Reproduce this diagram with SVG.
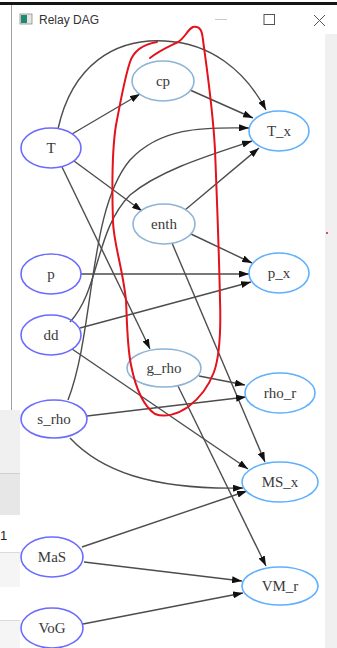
<svg xmlns="http://www.w3.org/2000/svg" width="337" height="648" viewBox="0 0 337 648">
<style>
.src{fill:none;stroke:#6b6bff;stroke-width:1.6}
.mid{fill:none;stroke:#8db3d6;stroke-width:1.6}
.out{fill:none;stroke:#5fb0ff;stroke-width:1.6}
.lbl{font-family:"Liberation Serif","Times New Roman",serif;font-size:15px;fill:#3a3a3a;text-anchor:middle;dominant-baseline:central}
.e{fill:none;stroke:#4d4d4d;stroke-width:1.4;marker-end:url(#ah)}
.red{fill:none;stroke:#e3121b;stroke-width:2;stroke-linecap:round;stroke-linejoin:round}
</style>
<defs>
<marker id="ah" viewBox="0 0 10 7" refX="10" refY="3.5" markerWidth="10" markerHeight="7" markerUnits="userSpaceOnUse" orient="auto">
<path d="M0,0 L10,3.5 L0,7 z" fill="#111"/>
</marker>
</defs>
<rect width="337" height="648" fill="#fff"/>
<!-- window chrome -->
<g id="chrome">
<rect x="0" y="2" width="337" height="3" fill="#151515"/>
<line x1="11.5" y1="5" x2="11.5" y2="410" stroke="#a0a0a0" stroke-width="1"/>
<rect x="325" y="34" width="12" height="614" fill="#f0f0f0"/>
<rect x="20" y="14" width="12" height="10" fill="#e6e6e6" stroke="#8a8a8a" stroke-width="0.8"/>
<rect x="21" y="15" width="6" height="8" fill="#1f8a6e"/>
<text x="39" y="24" font-family="Liberation Sans, Arial, sans-serif" font-size="12" fill="#333">Relay DAG</text>
<line x1="215" y1="19.5" x2="227" y2="19.5" stroke="#c8c8c8" stroke-width="1"/>
<rect x="264" y="14.5" width="10.5" height="10" fill="none" stroke="#555" stroke-width="1"/>
<path d="M314,15 L325,26 M325,15 L314,26" stroke="#555" stroke-width="1" fill="none"/>
</g>
<!-- background window fragment -->
<g id="bgwin">
<rect x="0" y="410" width="20" height="63" fill="#f0f0f0"/>
<line x1="0" y1="473.5" x2="20" y2="473.5" stroke="#cfcfcf"/>
<rect x="0" y="474" width="20" height="41" fill="#e7e7e7"/>
<text x="0" y="540" font-family="Liberation Sans, Arial, sans-serif" font-size="13" fill="#222">1</text>
<line x1="0" y1="552.5" x2="20" y2="552.5" stroke="#dadada"/>
<rect x="0" y="553" width="20" height="34" fill="#f5f5f5"/>
<line x1="0" y1="620.5" x2="20" y2="620.5" stroke="#dadada"/>
<rect x="0" y="621" width="20" height="27" fill="#f5f5f5"/>
</g>
<!-- connectors -->
<g id="edges">
<path class="e" d="M58,129 C72,65 115,38 165,41 C210,43 245,70 266,110"/>
<path class="e" d="M72,134 L140,94"/>
<path class="e" d="M190,90 L253,118"/>
<path class="e" d="M74,161 L142,211"/>
<path class="e" d="M62,167 L150,349"/>
<path class="e" d="M185,210 L259,148"/>
<path class="e" d="M191,234 L252,263"/>
<path class="e" d="M172,243 L265,462"/>
<path class="e" d="M81,274 L249,274"/>
<path class="e" d="M80,328 L251,282"/>
<path class="e" d="M70,322 C100,290 95,230 130,195 C160,170 210,155 252,141"/>
<path class="e" d="M72,349 L248,469"/>
<path class="e" d="M199,376 L245,385"/>
<path class="e" d="M178,386 L266,566"/>
<path class="e" d="M87,416 L246,397"/>
<path class="e" d="M68,400 C95,330 88,210 130,160 C160,128 200,127 249,128"/>
<path class="e" d="M70,438 C100,470 150,490 243,488"/>
<path class="e" d="M82,547 L247,491"/>
<path class="e" d="M84,562 L242,581"/>
<path class="e" d="M83,624 L243,593"/>
</g>
<!-- nodes -->
<g id="node-T"><ellipse class="src" cx="51" cy="148" rx="30" ry="20"/><text class="lbl" x="51" y="148">T</text></g>
<g id="node-cp"><ellipse class="mid" cx="163" cy="81" rx="31" ry="20"/><text class="lbl" x="163" y="81">cp</text></g>
<g id="node-T_x"><ellipse class="out" cx="279" cy="131" rx="30" ry="20"/><text class="lbl" x="279" y="131">T_x</text></g>
<g id="node-enth"><ellipse class="mid" cx="164" cy="224" rx="31" ry="20"/><text class="lbl" x="164" y="224">enth</text></g>
<g id="node-p"><ellipse class="src" cx="51" cy="274" rx="30" ry="20"/><text class="lbl" x="51" y="274">p</text></g>
<g id="node-p_x"><ellipse class="out" cx="279" cy="273" rx="30" ry="20"/><text class="lbl" x="279" y="273">p_x</text></g>
<g id="node-dd"><ellipse class="src" cx="51" cy="335" rx="30" ry="20"/><text class="lbl" x="51" y="335">dd</text></g>
<g id="node-g_rho"><ellipse class="mid" cx="164" cy="368" rx="37" ry="19"/><text class="lbl" x="164" y="368">g_rho</text></g>
<g id="node-rho_r"><ellipse class="out" cx="280" cy="393" rx="35" ry="20"/><text class="lbl" x="280" y="393">rho_r</text></g>
<g id="node-s_rho"><ellipse class="src" cx="54" cy="419" rx="33" ry="19"/><text class="lbl" x="54" y="419">s_rho</text></g>
<g id="node-MS_x"><ellipse class="out" cx="280" cy="482" rx="38" ry="20"/><text class="lbl" x="280" y="482">MS_x</text></g>
<g id="node-MaS"><ellipse class="src" cx="52" cy="557" rx="31" ry="20"/><text class="lbl" x="52" y="557">MaS</text></g>
<g id="node-VM_r"><ellipse class="out" cx="280" cy="586" rx="38" ry="19"/><text class="lbl" x="280" y="586">VM_r</text></g>
<g id="node-VoG"><ellipse class="src" cx="52" cy="628" rx="31" ry="20"/><text class="lbl" x="52" y="628">VoG</text></g>
<!-- hand annotation -->
<g id="annotation">
<path class="red" d="M157,42 C145,44 134,50 130,62 C124,80 120,105 116,125 C112,150 112,190 113,222 C114,245 122,265 126,300 C127,320 127,345 131,365 C135,385 142,405 155,414 C165,418 178,414 188,407 C200,398 208,388 214,372 C220,355 221,330 220,300 C219,250 217,200 215,150 C213,110 207,70 203,40 C202,30 200,26 193,27 C187,30 185,38 178,42 C170,46 160,50 150,58"/>
<circle cx="327" cy="233" r="1" fill="#e3121b"/>
</g>
</svg>
